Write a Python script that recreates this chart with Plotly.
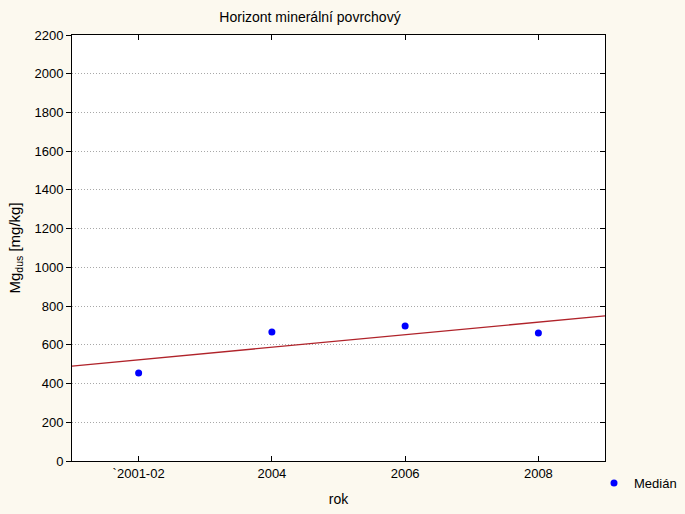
import numpy as np
import plotly.graph_objects as go

categories = ["`2001-02", "2004", "2006", "2008"]
median_values = [455, 666, 697, 661]
y_ticks = list(range(0, 2201, 200))

xi = np.arange(len(categories))
slope, intercept = np.polyfit(xi, median_values, 1)
line_x = np.array([-0.5, len(categories) - 0.5])
line_y = slope * line_x + intercept

font = dict(family="Liberation Sans, Arial, sans-serif", size=13, color="black")

fig = go.Figure()
fig.add_trace(go.Scatter(x=line_x, y=line_y, mode="lines",
                         line=dict(color="#B0232A", width=1.3),
                         showlegend=False, hoverinfo="skip"))
fig.add_trace(go.Scatter(x=xi, y=median_values, mode="markers", name="Medián",
                         marker=dict(color="#0000FF", size=7)))
# helper invisible trace for mirrored inside ticks
fig.add_trace(go.Scatter(x=[None], y=[None], xaxis="x2", yaxis="y2",
                         showlegend=False, hoverinfo="skip"))

fig.update_layout(
    width=685, height=514,
    paper_bgcolor="#FCF9EF", plot_bgcolor="white",
    margin=dict(l=72, r=80, t=35, b=53, autoexpand=False),
    font=font,
    title=dict(text="Horizont minerální povrchový", x=310/685, xanchor="center",
               y=1 - 17/514, yanchor="middle", font=dict(size=14)),
    xaxis=dict(range=[-0.5, 3.5], tickmode="array", tickvals=list(xi), ticktext=categories,
               ticks="inside", ticklen=5, tickcolor="black", showline=True,
               linecolor="black", linewidth=1, mirror=True, showgrid=False, zeroline=False,
               automargin=False,
               title=dict(text="rok", standoff=14, font=dict(size=14)), tickfont=font),
    yaxis=dict(range=[0, 2200], tickmode="array", tickvals=y_ticks,
               ticks="outside", ticklen=5, tickcolor="black", showline=True,
               linecolor="black", linewidth=1, mirror=True, showgrid=True,
               gridcolor="#A8A8A8", griddash="1px,2px", gridwidth=1, zeroline=False,
               automargin=False,
               title=dict(text="Mg<sub>dus</sub> [mg/kg]", standoff=10, font=dict(size=15)),
               tickfont=font),
    xaxis2=dict(range=[-0.5, 3.5], overlaying="x", side="top", tickmode="array",
                tickvals=list(xi), ticks="inside", ticklen=5, tickcolor="black",
                showticklabels=False, showgrid=False, zeroline=False, anchor="y2",
                automargin=False),
    yaxis2=dict(range=[0, 2200], overlaying="y", side="right", tickmode="array",
                tickvals=y_ticks, ticks="inside", ticklen=5, tickcolor="black",
                showticklabels=False, showgrid=False, zeroline=False, anchor="x2",
                automargin=False),
    legend=dict(x=594/685, y=1 - 483/514, xref="container", yref="container",
                xanchor="left", yanchor="middle", bgcolor="rgba(0,0,0,0)",
                font=font, itemwidth=30),
    showlegend=True,
)

fig.write_html("out.html", config={"displayModeBar": False},
               post_script="document.body.style.margin='0';document.body.style.overflow='hidden';")
